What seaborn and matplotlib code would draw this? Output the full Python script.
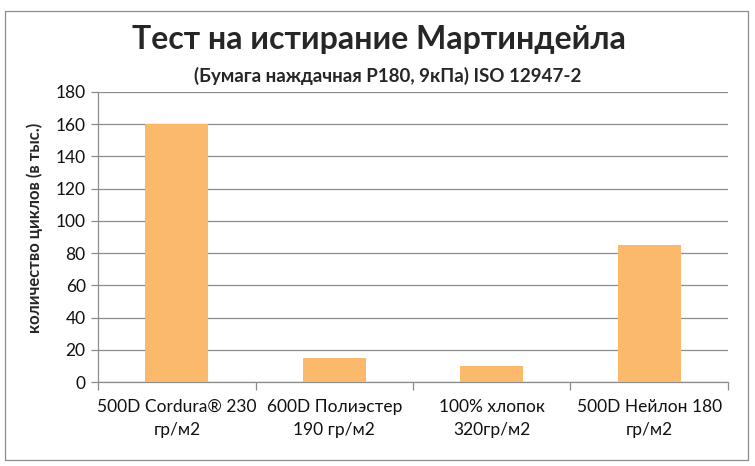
import numpy as np
import pandas as pd
import matplotlib
matplotlib.use('Agg')
import matplotlib.pyplot as plt
import seaborn as sns
from matplotlib.patches import Rectangle

# data
categories = ['500D Cordura® 230\nгр/м2', '600D Полиэстер\n190 гр/м2',
              '100% хлопок\n320гр/м2', '500D Нейлон 180\nгр/м2']
cycles = [160, 15, 10, 85]

title = 'Тест на истирание Мартиндейла'
subtitle = '(Бумага наждачная Р180, 9кПа) ISO 12947-2'
y_label = 'количество циклов (в тыс.)'
y_ticks = list(range(0, 181, 20))

sns.set_theme(style='white')
plt.rcParams['font.family'] = ['Lato', 'DejaVu Sans']

df = pd.DataFrame({'category': categories, 'cycles': cycles})

fig = plt.figure(figsize=(7.55, 4.66), dpi=100)
ax = fig.add_axes([0.130, 0.180, 0.834, 0.623])

sns.barplot(data=df, x='category', y='cycles', color='#FBB96B', saturation=1,
            width=0.4, edgecolor='none', linewidth=0, ax=ax, zorder=3)

ax.set_ylim(0, 180)
ax.set_yticks(y_ticks)
ax.set_xlim(-0.5, len(categories) - 0.5)
ax.grid(axis='y', color='#8C8C8C', linewidth=0.9, zorder=0)
ax.set_axisbelow(True)

for side in ['top', 'right']:
    ax.spines[side].set_visible(False)
for side in ['left', 'bottom']:
    ax.spines[side].set_color('#8C8C8C')
    ax.spines[side].set_linewidth(0.9)

# tick marks between categories, like the Excel original
ax.set_xticks(np.arange(len(categories)))
ax.set_xticklabels(categories, fontsize=12.5, linespacing=1.55)
ax.set_xticks(np.arange(-0.5, len(categories)), minor=True)
ax.tick_params(axis='x', which='major', length=0, pad=12, colors='#111111')
ax.tick_params(axis='x', which='minor', length=6, width=0.9, color='#8C8C8C',
               direction='out', bottom=True)
ax.tick_params(axis='y', length=5, width=0.9, color='#8C8C8C', direction='out',
               left=True, labelsize=12.5, pad=4, labelcolor='#111111')

ax.set_xlabel('')
ax.set_ylabel(y_label, fontsize=12, fontweight='bold')
ax.yaxis.set_label_coords(-0.088, 0.53)

fig.text(0.502, 0.915, title, ha='center', va='center', fontsize=23,
         fontweight='bold')
fig.text(0.514, 0.837, subtitle, ha='center', va='center', fontsize=13.5,
         fontweight='bold')

# chart border
fig.patches.append(Rectangle((0.007, 0.012), 0.984, 0.965, transform=fig.transFigure,
                             fill=False, edgecolor='#8C8C8C', linewidth=0.9))

fig.savefig('out.png', dpi=100)
